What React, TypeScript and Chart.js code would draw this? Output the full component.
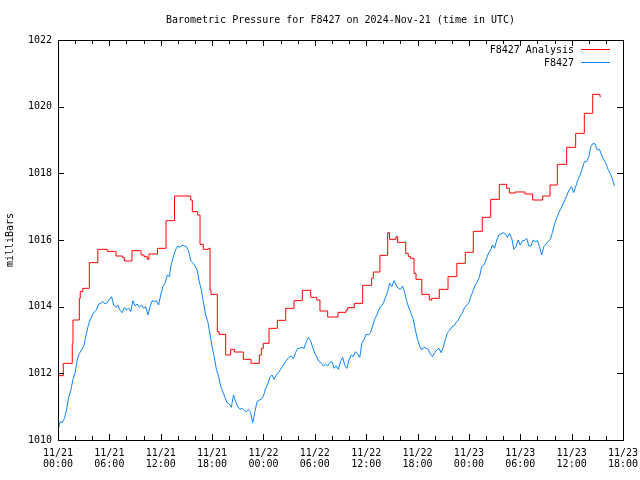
import { useEffect, useRef } from 'react';
import { Chart, registerables } from 'chart.js';

Chart.register(...registerables);

const TITLE = 'Barometric Pressure for F8427 on 2024-Nov-21 (time in UTC)';
const Y_LABEL = 'milliBars';
const SERIES_NAMES = ['F8427 Analysis', 'F8427'];
const SERIES_COLORS = ['#ff0000', '#0a84ff'];
const DAY_LABELS = ['11/21', '11/22', '11/23'];
const HOUR_LABELS = ['00:00', '06:00', '12:00', '18:00'];
const X_MIN_H = 0;
const X_MAX_H = 66;
const Y_MIN = 1010;
const Y_MAX = 1022;
const Y_STEP = 2;

// Analysis (step series): hours since 11/21 00:00 UTC and value holding from that hour
const analysisHours = [
  0, 0.62, 1.67, 1.75, 2.49, 2.6, 2.9, 3.66, 4.65, 5.76, 6.78, 7.56, 7.75, 8.64, 9.7, 10.05,
  10.43, 10.63, 11.62, 12.62, 13.61, 15.5, 15.69, 16.32, 16.59, 16.97, 17.56, 17.76, 17.87,
  18.61, 18.81, 19.59, 20.17, 20.6, 21.65, 22.55, 23.52, 23.75, 23.98, 24.65, 25.62, 26.6,
  27.57, 28.54, 29.52, 30.22, 30.6, 31.5, 32.7, 33.64, 33.84, 34.61, 35.59, 36.64, 36.83,
  37.6, 38.51, 38.72, 39.48, 39.68, 40.62, 40.92, 41.18, 41.59, 41.82, 42.5, 43.37, 43.65,
  44.54, 45.56, 46.59, 47.58, 48.51, 49.56, 50.55, 51.55, 52.41, 52.72, 53.38, 54.55, 55.45,
  56.62, 57.47, 58.33, 59.42, 60.47, 61.48, 62.46, 63.31, 63.4,
];
const analysisValues = [
  1011.93, 1012.3, 1012.9, 1013.6, 1014.25, 1014.45, 1014.55, 1015.32, 1015.72, 1015.66,
  1015.52, 1015.47, 1015.37, 1015.68, 1015.55, 1015.5, 1015.42, 1015.58, 1015.75, 1016.58,
  1017.32, 1017.2, 1016.85, 1016.75, 1015.87, 1015.72, 1015.75, 1014.5, 1014.37, 1013.25,
  1013.17, 1012.55, 1012.72, 1012.64, 1012.42, 1012.3, 1012.55, 1012.75, 1012.9, 1013.35,
  1013.59, 1013.95, 1014.18, 1014.49, 1014.28, 1014.2, 1013.87, 1013.69, 1013.83, 1013.9,
  1013.97, 1014.1, 1014.64, 1014.85, 1015.04, 1015.54, 1016.22, 1016.02, 1016.1, 1015.93,
  1015.6, 1015.5, 1015.45, 1015.0, 1014.82, 1014.37, 1014.2, 1014.25, 1014.52, 1014.9,
  1015.3, 1015.63, 1016.26, 1016.68, 1017.22, 1017.67, 1017.55, 1017.41, 1017.44, 1017.38,
  1017.2, 1017.32, 1017.65, 1018.27, 1018.78, 1019.2, 1019.8, 1020.37, 1020.3, 1020.3,
];

// Station observations, one every 15 minutes starting 11/21 00:00 UTC
const STATION_START_H = 0;
const STATION_STEP_H = 0.25;
const stationValues = [
  1010.3, 1010.55, 1010.52, 1010.65, 1010.9, 1011.28, 1011.5, 1011.82, 1012.02, 1012.4, 1012.6, 1012.7,
  1012.8, 1013.1, 1013.4, 1013.6, 1013.75, 1013.85, 1013.9, 1014.08, 1014.1, 1014.15, 1014.08, 1014.12,
  1014.22, 1014.3, 1014.05, 1013.98, 1014.05, 1013.88, 1013.82, 1013.98, 1013.9, 1013.95, 1013.85, 1014.18,
  1014.02, 1014.08, 1013.98, 1014.05, 1013.95, 1014.0, 1013.75, 1014.0, 1014.18, 1014.15, 1014.18, 1014.05,
  1014.35, 1014.6, 1014.7, 1014.95, 1014.9, 1015.3, 1015.52, 1015.72, 1015.82, 1015.78, 1015.85, 1015.82,
  1015.8, 1015.68, 1015.38, 1015.32, 1015.22, 1015.1, 1014.75, 1014.5, 1014.12, 1013.75, 1013.55, 1013.18,
  1012.8, 1012.5, 1012.12, 1011.92, 1011.62, 1011.45, 1011.28, 1011.12, 1011.08, 1010.98, 1011.35, 1011.15,
  1011.0, 1010.92, 1010.95, 1010.88, 1010.85, 1010.92, 1010.82, 1010.52, 1010.85, 1011.15, 1011.2, 1011.22,
  1011.32, 1011.55, 1011.68, 1011.88, 1011.95, 1011.82, 1011.95, 1012.02, 1012.12, 1012.22, 1012.32, 1012.42,
  1012.48, 1012.52, 1012.44, 1012.62, 1012.75, 1012.75, 1012.78, 1012.75, 1012.95, 1013.08, 1012.98, 1012.78,
  1012.6, 1012.48, 1012.35, 1012.32, 1012.22, 1012.28, 1012.22, 1012.32, 1012.35, 1012.15, 1012.22, 1012.12,
  1012.35, 1012.48, 1012.25, 1012.15, 1012.4, 1012.55, 1012.5, 1012.65, 1012.58, 1012.48, 1012.9, 1013.02,
  1013.18, 1013.15, 1013.22, 1013.42, 1013.62, 1013.75, 1013.92, 1014.02, 1014.1, 1014.28, 1014.45, 1014.7,
  1014.6, 1014.78, 1014.65, 1014.55, 1014.52, 1014.62, 1014.42, 1014.15, 1013.95, 1013.8, 1013.62, 1013.3,
  1013.02, 1012.82, 1012.7, 1012.78, 1012.75, 1012.72, 1012.58, 1012.5, 1012.62, 1012.7, 1012.75, 1012.62,
  1012.78, 1013.02, 1013.22, 1013.28, 1013.4, 1013.42, 1013.52, 1013.6, 1013.72, 1013.82, 1013.98, 1014.05,
  1014.12, 1014.32, 1014.48, 1014.65, 1014.75, 1014.92, 1015.2, 1015.25, 1015.4, 1015.58, 1015.68, 1015.85,
  1015.75, 1016.0, 1016.15, 1016.18, 1016.22, 1016.18, 1016.08, 1016.2, 1016.05, 1015.72, 1015.8, 1016.0,
  1015.85, 1015.98, 1015.98, 1016.05, 1015.82, 1015.82, 1016.0, 1015.95, 1015.98, 1015.8, 1015.55, 1015.8,
  1015.88, 1015.95, 1016.02, 1016.22, 1016.48, 1016.65, 1016.82, 1016.95, 1017.08, 1017.22, 1017.38, 1017.52,
  1017.6, 1017.42, 1017.62, 1017.82, 1017.95, 1018.15, 1018.35, 1018.35, 1018.5, 1018.8, 1018.9, 1018.88,
  1018.7, 1018.72, 1018.55, 1018.42, 1018.3, 1018.12, 1018.0, 1017.85, 1017.62,
];

const FONT_FAMILY = '"DejaVu Sans Mono", "Liberation Mono", monospace';

const frameTicksPlugin = {
  id: 'frameTicks',
  afterDatasetsDraw(chart: any) {
    const { ctx, chartArea, scales } = chart;
    const { left, right, top, bottom } = chartArea;
    ctx.save();
    ctx.strokeStyle = '#000';
    ctx.lineWidth = 1;
    ctx.beginPath();
    // x ticks every 2 hours, major every 6 hours
    for (let h = X_MIN_H; h <= X_MAX_H; h += 2) {
      const x = Math.round(scales.x.getPixelForValue(h)) + 0.5;
      const len = h % 6 === 0 ? 6 : 4;
      ctx.moveTo(x, bottom);
      ctx.lineTo(x, bottom - len);
      ctx.moveTo(x, top);
      ctx.lineTo(x, top + len);
    }
    for (let v = Y_MIN; v <= Y_MAX; v += Y_STEP) {
      const y = Math.round(scales.y.getPixelForValue(v)) + 0.5;
      ctx.moveTo(left, y);
      ctx.lineTo(left + 6, y);
      ctx.moveTo(right, y);
      ctx.lineTo(right - 6, y);
    }
    ctx.stroke();
    ctx.strokeRect(Math.round(left) + 0.5, Math.round(top) + 0.5, Math.round(right - left), Math.round(bottom - top));

    // legend, gnuplot style (text right-aligned, sample line to its right)
    ctx.font = '10px ' + FONT_FAMILY;
    ctx.textAlign = 'right';
    ctx.textBaseline = 'middle';
    ctx.fillStyle = '#000';
    SERIES_NAMES.forEach((name, i) => {
      const y = top + 9.5 + i * 13;
      ctx.fillText(name, right - 49, y + 0.5);
      ctx.strokeStyle = SERIES_COLORS[i];
      ctx.beginPath();
      ctx.moveTo(right - 42, y);
      ctx.lineTo(right - 13, y);
      ctx.stroke();
    });
    ctx.restore();
  },
};

export default function App() {
  const canvasRef = useRef<HTMLCanvasElement>(null);

  useEffect(() => {
    const canvas = canvasRef.current;
    if (!canvas) return;
    const analysisData = analysisHours.map((h, i) => ({ x: h, y: analysisValues[i] }));
    const stationData = stationValues.map((v, i) => ({ x: STATION_START_H + i * STATION_STEP_H, y: v }));

    const chart = new Chart(canvas, {
      type: 'line',
      data: {
        datasets: [
          {
            label: SERIES_NAMES[0],
            data: analysisData,
            borderColor: SERIES_COLORS[0],
            backgroundColor: SERIES_COLORS[0],
            borderWidth: 1,
            pointRadius: 0,
            stepped: true,
            fill: false,
          },
          {
            label: SERIES_NAMES[1],
            data: stationData,
            borderColor: SERIES_COLORS[1],
            backgroundColor: SERIES_COLORS[1],
            borderWidth: 1,
            pointRadius: 0,
            tension: 0,
            fill: false,
          },
        ],
      },
      options: {
        animation: false,
        responsive: false,
        devicePixelRatio: 1,
        layout: { padding: { left: 0, right: 17, top: 0, bottom: 0 } },
        font: { family: FONT_FAMILY, size: 10 },
        color: '#000',
        plugins: {
          legend: { display: false },
          tooltip: { enabled: false },
          title: {
            display: true,
            text: TITLE,
            fullSize: false,
            color: '#000',
            font: { family: FONT_FAMILY, size: 10, weight: 'normal', lineHeight: 1.2 },
            padding: { top: 14, bottom: 14 },
          },
        },
        scales: {
          x: {
            type: 'linear',
            min: X_MIN_H,
            max: X_MAX_H,
            grid: { display: false, drawTicks: false },
            border: { display: false },
            afterFit(scale: any) {
              scale.height = 40;
              scale.paddingLeft = 0;
              scale.paddingRight = 0;
            },
            ticks: {
              stepSize: 6,
              autoSkip: false,
              maxRotation: 0,
              minRotation: 0,
              padding: 8,
              color: '#000',
              font: { family: FONT_FAMILY, size: 10, lineHeight: '11px' },
              callback: (value: any) => {
                const h = Number(value);
                if (h % 6 !== 0) return '';
                const day = DAY_LABELS[Math.floor(h / 24)] ?? '';
                const hr = HOUR_LABELS[(h % 24) / 6];
                return [day, hr];
              },
            },
          },
          y: {
            type: 'linear',
            min: Y_MIN,
            max: Y_MAX,
            grid: { display: false, drawTicks: false },
            border: { display: false },
            afterFit(scale: any) {
              scale.width = 58;
              scale.paddingTop = 0;
              scale.paddingBottom = 0;
            },
            title: {
              display: true,
              text: Y_LABEL,
              color: '#000',
              font: { family: FONT_FAMILY, size: 10, lineHeight: 1.2 },
              padding: { top: 4, bottom: 0 },
            },
            ticks: {
              stepSize: Y_STEP,
              padding: 6,
              color: '#000',
              font: { family: FONT_FAMILY, size: 10 },
              callback: (value: any) => String(value),
            },
          },
        },
      },
      plugins: [frameTicksPlugin],
    } as any);

    return () => chart.destroy();
  }, []);

  return (
    <div style={{ position: 'absolute', left: 0, top: 0, width: 640, height: 480, background: '#fff' }}>
      <canvas ref={canvasRef} width={640} height={480} />
    </div>
  );
}
